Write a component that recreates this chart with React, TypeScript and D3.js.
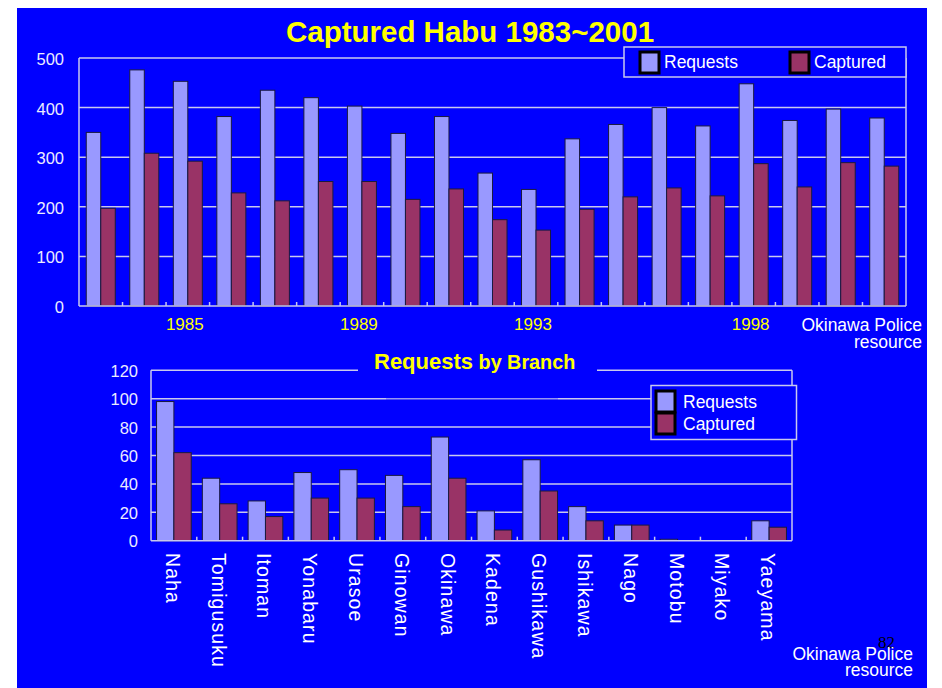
import * as d3 from "d3";

// Top chart: yearly totals
const YEARS = ["1983", "1984", "1985", "1986", "1987", "1988", "1989", "1990", "1991", "1992",
  "1993", "1994", "1995", "1996", "1997", "1998", "1999", "2000", "2001"];
const REQUESTS = [350, 476, 453, 382, 435, 420, 403, 348, 382, 268, 235, 337, 366, 400, 363, 448, 374, 397, 379];
const CAPTURED = [197, 308, 292, 228, 212, 251, 251, 215, 236, 174, 153, 195, 220, 238, 222, 287, 240, 289, 282];
const YEAR_LABELS = ["1985", "1989", "1993", "1998"];
const TOP_TICKS = [0, 100, 200, 300, 400, 500];

// Bottom chart: per branch
const BRANCHES = ["Naha", "Tomigusuku", "Itoman", "Yonabaru", "Urasoe", "Ginowan", "Okinawa",
  "Kadena", "Gushikawa", "Ishikawa", "Nago", "Motobu", "Miyako", "Yaeyama"];
const BRANCH_REQ = [98, 44, 28, 48, 50, 46, 73, 21, 57, 24, 11, 1, 0, 14];
const BRANCH_CAP = [62, 26, 17, 30, 30, 24, 44, 7.5, 35, 14, 11, 0, 0, 9.5];
const BOTTOM_TICKS = [0, 20, 40, 60, 80, 100, 120];

const SERIES = ["Requests", "Captured"];
const COLORS: Record<string, string> = { Requests: "#9999ff", Captured: "#993366" };

const BG = "#0000ff";
const GRID = "#c8c8ee";
const FONT = "'Liberation Sans', Arial, sans-serif";

export default function App() {
  // top chart scales
  const tx = d3.scaleBand<string>().domain(YEARS).range([79, 906]);
  const ty = d3.scaleLinear().domain([0, 500]).range([306, 58]);
  const tsub = d3.scaleBand<string>().domain(SERIES).range([0, tx.bandwidth()]).paddingOuter(0.5);

  // bottom chart scales
  const bx = d3.scaleBand<string>().domain(BRANCHES).range([151, 792]);
  const by = d3.scaleLinear().domain([0, 120]).range([540.7, 370.3]);
  const bsub = d3.scaleBand<string>().domain(SERIES).range([0, bx.bandwidth()]).paddingOuter(0.32);

  const topData = YEARS.map((y, i) => ({ key: y, Requests: REQUESTS[i], Captured: CAPTURED[i] }));
  const botData = BRANCHES.map((b, i) => ({ key: b, Requests: BRANCH_REQ[i], Captured: BRANCH_CAP[i] }));

  return (
    <div style={{ position: "absolute", left: 0, top: 0 }}>
      <svg width={942} height={688} style={{ display: "block", fontFamily: FONT }}>
        <rect x={0} y={0} width={942} height={688} fill="#ffffff" />
        <rect x={17} y={8} width={910} height={680} fill={BG} />

        {/* ---------- top chart ---------- */}
        <text x={470} y={42} textAnchor="middle" fill="#ffff00" fontSize={29.5} fontWeight="bold">
          Captured Habu 1983~2001
        </text>
        {TOP_TICKS.map((t) => (
          <g key={t}>
            {t > 0 && <line x1={79} x2={906} y1={ty(t)} y2={ty(t)} stroke={GRID} strokeWidth={1.5} />}
            <text x={64} y={ty(t) + 7} textAnchor="end" fill="#ececff" fontSize={16.5}>{t}</text>
          </g>
        ))}
        <line x1={79} x2={79} y1={58} y2={306} stroke={GRID} strokeWidth={1.5} />
        <line x1={906} x2={906} y1={58} y2={306} stroke={GRID} strokeWidth={1.5} />
        {topData.map((d) => (
          <g key={d.key} transform={`translate(${tx(d.key)},0)`}>
            {SERIES.map((s) => (
              <rect key={s} x={tsub(s)} y={ty((d as any)[s])} width={tsub.bandwidth()}
                height={ty(0) - ty((d as any)[s])} fill={COLORS[s]} stroke="#1a1a40" strokeWidth={1} />
            ))}
          </g>
        ))}
        <line x1={79} x2={906} y1={306} y2={306} stroke={GRID} strokeWidth={1.5} />
        {YEARS.slice(1).map((y) => (
          <line key={y} x1={tx(y)} x2={tx(y)} y1={306} y2={302} stroke={GRID} strokeWidth={1.5} />
        ))}
        {YEAR_LABELS.map((y) => (
          <text key={y} x={(tx(y) as number) + tx.bandwidth() / 2 - 3} y={330} textAnchor="middle"
            fill="#ffff00" fontSize={17}>{y}</text>
        ))}
        <text x={922} y={331} textAnchor="end" fill="#ffffff" fontSize={17.5}>Okinawa Police</text>
        <text x={922} y={348} textAnchor="end" fill="#ffffff" fontSize={17.5}>resource</text>

        {/* top legend */}
        <rect x={624} y={47} width={282} height={30} fill={BG} stroke={GRID} strokeWidth={1.5} />
        {SERIES.map((s, i) => (
          <g key={s} transform={`translate(${640 + i * 150},0)`}>
            <rect x={0} y={52} width={19} height={21} fill={COLORS[s]} stroke="#000000" strokeWidth={3} />
            <text x={24} y={68} fill="#ffffff" fontSize={17.5}>{s}</text>
          </g>
        ))}

        {/* ---------- bottom chart ---------- */}
        {BOTTOM_TICKS.map((t) => (
          <g key={t}>
            {t > 0 && <line x1={151} x2={792} y1={by(t)} y2={by(t)} stroke={GRID} strokeWidth={1.5} />}
            <text x={138} y={by(t) + 6.5} textAnchor="end" fill="#ececff" fontSize={16.5}>{t}</text>
          </g>
        ))}
        {/* title box interrupts top gridline */}
        <rect x={358} y={355} width={239} height={30} fill={BG} />
        <rect x={386} y={394} width={172} height={6} fill={BG} opacity={0.25} />
        <text x={374} y={369} fill="#ffff00" fontWeight="bold">
          <tspan fontSize={22}>Requests</tspan>
          <tspan fontSize={19.8}> by Branch</tspan>
        </text>
        <line x1={151} x2={151} y1={370.3} y2={540.7} stroke={GRID} strokeWidth={1.5} />
        <line x1={792} x2={792} y1={370.3} y2={540.7} stroke={GRID} strokeWidth={1.5} />
        {botData.map((d) => (
          <g key={d.key} transform={`translate(${bx(d.key)},0)`}>
            {SERIES.map((s) => (
              <rect key={s} x={bsub(s)} y={by((d as any)[s])} width={bsub.bandwidth()}
                height={by(0) - by((d as any)[s])} fill={COLORS[s]} stroke="#1a1a40" strokeWidth={1} />
            ))}
          </g>
        ))}
        <line x1={151} x2={792} y1={540.7} y2={540.7} stroke={GRID} strokeWidth={1.5} />
        {BRANCHES.slice(1).map((b) => (
          <line key={b} x1={bx(b)} x2={bx(b)} y1={540.7} y2={536.7} stroke={GRID} strokeWidth={1.5} />
        ))}
        {BRANCHES.map((b) => (
          <text key={b} transform={`translate(${(bx(b) as number) + bx.bandwidth() / 2 - 8},553) rotate(90)`}
            fill="#ffffff" fontSize={19.5} letterSpacing={1.1}>{b}</text>
        ))}

        {/* bottom legend */}
        <rect x={651} y={385.5} width={145.5} height={54} fill={BG} stroke={GRID} strokeWidth={1.5} />
        {SERIES.map((s, i) => (
          <g key={s} transform={`translate(656,${i * 22})`}>
            <rect x={0} y={391} width={19} height={21} fill={COLORS[s]} stroke="#000000" strokeWidth={3} />
            <text x={27} y={408} fill="#ffffff" fontSize={17.5}>{s}</text>
          </g>
        ))}

        <text x={878} y={648} fill="#000000" fontSize={17} fontFamily="'Liberation Serif', serif">82</text>
        <text x={913} y={660} textAnchor="end" fill="#ffffff" fontSize={17.5}>Okinawa Police</text>
        <text x={913} y={676} textAnchor="end" fill="#ffffff" fontSize={17.5}>resource</text>
      </svg>
    </div>
  );
}
